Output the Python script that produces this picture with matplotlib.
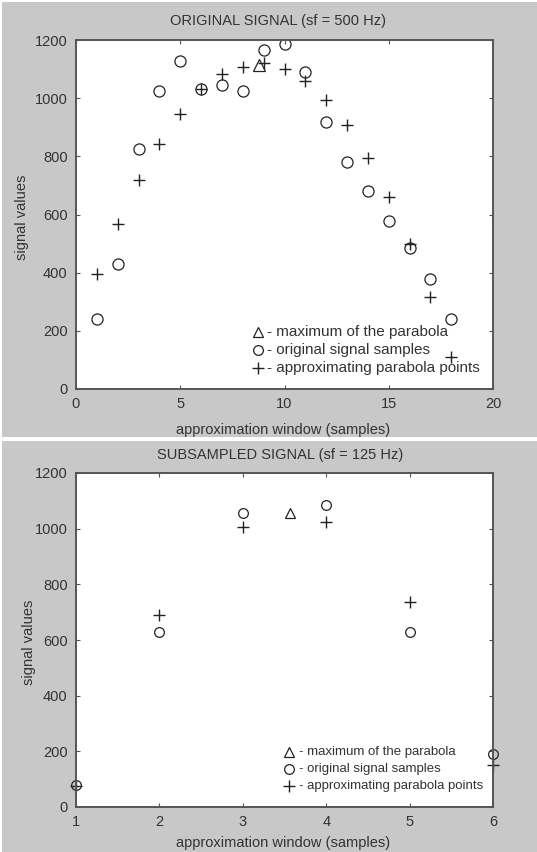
import numpy as np
import matplotlib.pyplot as plt
from matplotlib.patches import Rectangle

plt.rcParams['font.family'] = ['Liberation Sans', 'DejaVu Sans']

# original signal (sf = 500 Hz)
x_orig = [1, 2, 3, 4, 5, 6, 7, 8, 9, 10, 11, 12, 13, 14, 15, 16, 17, 18]
y_orig = [240, 430, 825, 1025, 1128, 1032, 1044, 1025, 1164, 1185, 1090, 917, 781, 680, 579, 485, 378, 240]
y_orig_par = [395, 567, 717, 844, 944, 1030, 1082, 1108, 1122, 1101, 1059, 993, 907, 795, 659, 500, 315, 111]
max_orig = (8.8, 1115)

# subsampled signal (sf = 125 Hz)
x_sub = [1, 2, 3, 4, 5, 6]
y_sub = [80, 629, 1056, 1086, 629, 190]
y_sub_par = [74, 689, 1006, 1024, 737, 152]
max_sub = (3.56, 1056)

legend_txt = ['- maximum of the parabola', '- original signal samples', '- approximating parabola points']

W, H = 537, 852
fig = plt.figure(figsize=(W / 100, H / 100), dpi=100)
fig.patch.set_facecolor('white')
# gray panel backgrounds
fig.patches.append(Rectangle((2 / W, 1 - 437 / H), 1, 435 / H, transform=fig.transFigure,
                             facecolor='#c8c8c8', edgecolor='none', zorder=-10))
fig.patches.append(Rectangle((2 / W, 0), 1, 1 - 441 / H, transform=fig.transFigure,
                             facecolor='#c8c8c8', edgecolor='none', zorder=-10))

tc = '#333333'
fs = 10.5


def px(x, y):
    return x / W, 1 - y / H


def style(ax):
    for s in ax.spines.values():
        s.set_color('#555555')
        s.set_linewidth(1.4)
    ax.tick_params(direction='in', length=3, width=0.8, colors='#555555', pad=6,
                   top=True, right=True, labelsize=10.5, labelcolor=tc)


ax1 = fig.add_axes([76 / W, 1 - 389 / H, (493 - 76) / W, (389 - 40) / H])
ax1.plot(x_orig, y_orig, 'o', mfc='none', mec='#222222', ms=8, mew=0.9)
ax1.plot(x_orig, y_orig_par, '+', color='#222222', ms=9, mew=1.0)
ax1.plot([max_orig[0]], [max_orig[1]], '^', mfc='none', mec='#222222', ms=8, mew=0.9)
ax1.set_xlim(0, 20)
ax1.set_ylim(0, 1200)
ax1.set_xticks([0, 5, 10, 15, 20])
ax1.set_yticks(np.arange(0, 1201, 200))
style(ax1)
fig.text(*px(278, 21), 'ORIGINAL SIGNAL (sf = 500 Hz)', fontsize=fs, color=tc, ha='center', va='center')
fig.text(*px(283, 430), 'approximation window (samples)', fontsize=fs, color=tc, ha='center', va='center')
fig.text(*px(22, 217), 'signal values', fontsize=fs, color=tc, ha='center', va='center', rotation=90)
for yy, mk, t in zip([0.162, 0.112, 0.059], ['^', 'o', '+'], legend_txt):
    if mk == '+':
        ax1.plot([0.437], [yy], mk, transform=ax1.transAxes, color='#222222', ms=8, mew=1.0)
    else:
        ax1.plot([0.437], [yy], mk, transform=ax1.transAxes, mfc='none', mec='#222222', ms=7, mew=0.9)
    ax1.text(0.457, yy, t, transform=ax1.transAxes, fontsize=11, color=tc, va='center')

ax2 = fig.add_axes([76 / W, 1 - 807 / H, (493 - 76) / W, (807 - 473) / H])
ax2.plot(x_sub, y_sub, 'o', mfc='none', mec='#222222', ms=7, mew=0.9, clip_on=False)
ax2.plot(x_sub, y_sub_par, '+', color='#222222', ms=8, mew=1.0, clip_on=False)
ax2.plot([max_sub[0]], [max_sub[1]], '^', mfc='none', mec='#222222', ms=7, mew=0.9)
ax2.set_xlim(1, 6)
ax2.set_ylim(0, 1200)
ax2.set_xticks([1, 2, 3, 4, 5, 6])
ax2.set_yticks(np.arange(0, 1201, 200))
style(ax2)
fig.text(*px(280, 455), 'SUBSAMPLED SIGNAL (sf = 125 Hz)', fontsize=fs, color=tc, ha='center', va='center')
fig.text(*px(283, 843), 'approximation window (samples)', fontsize=fs, color=tc, ha='center', va='center')
fig.text(*px(29, 642), 'signal values', fontsize=fs, color=tc, ha='center', va='center', rotation=90)
for yy, mk, t in zip([0.164, 0.115, 0.064], ['^', 'o', '+'], legend_txt):
    if mk == '+':
        ax2.plot([0.511], [yy], mk, transform=ax2.transAxes, color='#222222', ms=8, mew=1.0)
    else:
        ax2.plot([0.511], [yy], mk, transform=ax2.transAxes, mfc='none', mec='#222222', ms=7, mew=0.9)
    ax2.text(0.535, yy, t, transform=ax2.transAxes, fontsize=9.5, color=tc, va='center')

fig.savefig('out.png', dpi=100, facecolor=fig.get_facecolor())
